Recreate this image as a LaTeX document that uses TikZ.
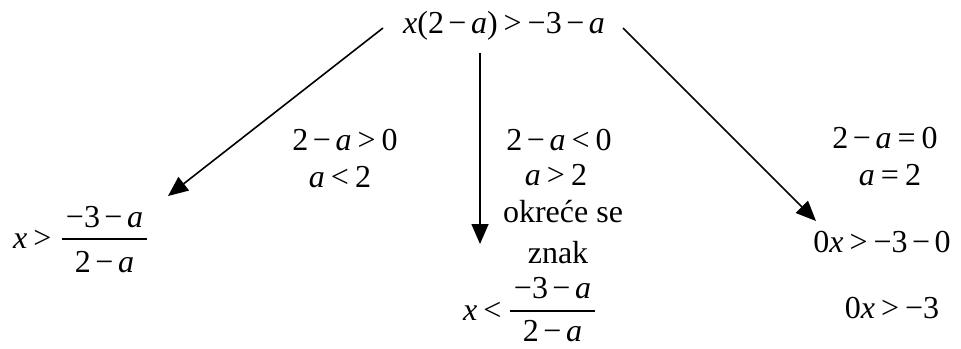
\documentclass[tikz,border=0pt]{standalone}
\usepackage{fontspec}
\setmainfont{Liberation Serif}
\usetikzlibrary{arrows.meta}
\newcommand\mn{\kern4.5pt−\kern4.5pt}
\newcommand\rl[1]{\kern6pt#1\kern6pt}
\newcommand\vx{\textit{x}}
\newcommand\va{\textit{a}}
\begin{document}
\begin{tikzpicture}[x=1pt,y=-1pt,
  lbl/.style={anchor=base,inner sep=0pt,font=\fontsize{32}{38}\selectfont},
  lblw/.style={lbl,anchor=base west},
  bar/.style={line width=1.4pt},
  arr/.style={line width=1.6pt,-{Triangle[length=20pt,width=17pt]}}]
\useasboundingbox (0,0) rectangle (961,348);
\node[lbl] (top) at (504,33) {\vx(2\mn\va)\rl{>}−3\mn\va};
\coordinate (l0) at (383,28);
\coordinate (l1) at (168,196);
\coordinate (m0) at (480,53);
\coordinate (m1) at (480,244);
\coordinate (r0) at (623,28);
\coordinate (r1) at (816,221);
\draw[arr] (l0) -- (l1);
\draw[arr] (m0) -- (m1);
\draw[arr] (r0) -- (r1);
% left branch
\node[lbl] (lc1) at (345,150) {2\mn\va\rl{>}0};
\node[lbl] (lc2) at (340,187) {\va\rl{<}2};
\node[lblw] (lx) at (13,248) {\vx\rl{>}};
\node[lbl] (lnum) at (104.5,227) {−3\mn\va};
\node[lbl] (lden) at (104.5,272) {2\mn\va};
\draw[bar] (62,239) -- (147,239);
% middle branch
\node[lbl] (mc1) at (559,150) {2\mn\va\rl{<}0};
\node[lbl] (mc2) at (556,185) {\va\rl{>}2};
\node[lbl] (mc3) at (563,222) {okreće se};
\node[lbl] (mc4) at (558,263) {znak};
\node[lblw] (mx) at (463,320) {\vx\rl{<}};
\node[lbl] (mnum) at (552.5,298) {−3\mn\va};
\node[lbl] (mden) at (552.5,341) {2\mn\va};
\draw[bar] (510,311) -- (595,311);
% right branch
\node[lbl] (rc1) at (885,148) {2\mn\va\rl{=}0};
\node[lbl] (rc2) at (890,185) {\va\rl{=}2};
\node[lbl] (rr1) at (882,252) {0\vx\rl{>}−3\mn0};
\node[lbl] (rr2) at (892,318) {0\vx\rl{>}−3};
\end{tikzpicture}
\end{document}
